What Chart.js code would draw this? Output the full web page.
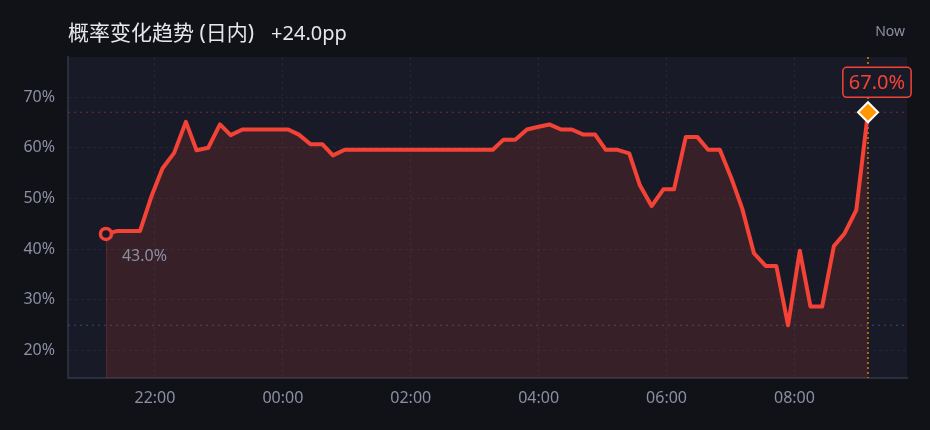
<!DOCTYPE html>
<html lang="zh">
<head>
    <meta charset="UTF-8">
    <title>概率变化趋势 (日内)</title>
    <style>
        html, body {
            margin: 0;
            padding: 0;
            background: #111217;
        }
        .wrap {
            position: relative;
            width: 930px;
            height: 430px;
            font-family: "Noto Sans", "Noto Sans CJK SC", sans-serif;
        }
        canvas {
            position: absolute;
            left: 0;
            top: 0;
        }
        .title {
            position: absolute;
            left: 68px;
            top: 18px;
            font-size: 21px;
            line-height: 28px;
            color: #e6e7eb;
            white-space: nowrap;
        }
        .title .delta {
            margin-left: 17px;
            font-size: 20px;
        }
        .now {
            position: absolute;
            right: 25px;
            top: 22px;
            font-size: 14px;
            line-height: 18px;
            color: #8b8fa3;
        }
    </style>
</head>
<body>
    <div class="wrap">
        <canvas id="chart" width="930" height="430"></canvas>
        <div class="title">概率变化趋势 (日内)<span class="delta">+24.0pp</span></div>
        <div class="now">Now</div>
    </div>

    <script src="https://cdn.jsdelivr.net/npm/chart.js"></script>
    <script>
        // sample times (previous evening -> this morning)
        const times = [
            '21:14', '21:25', '21:35', '21:46', '21:57', '22:07', '22:18', '22:29', '22:39', '22:50',
            '23:01', '23:11', '23:22', '23:33', '23:43', '23:54', '00:05', '00:15', '00:26', '00:37',
            '00:47', '00:58', '01:09', '01:19', '01:30', '01:41', '01:51', '02:02', '02:13', '02:23',
            '02:34', '02:45', '02:55', '03:06', '03:17', '03:27', '03:38', '03:49', '03:59', '04:10',
            '04:21', '04:31', '04:42', '04:53', '05:03', '05:14', '05:25', '05:35', '05:46', '05:57',
            '06:07', '06:18', '06:29', '06:39', '06:50', '07:01', '07:11', '07:22', '07:33', '07:43',
            '07:54', '08:05', '08:15', '08:26', '08:37', '08:47', '08:58', '09:09'
        ];
        // probability in %
        const probs = [
            43.0, 43.6, 43.6, 43.6, 50.6, 55.9, 59.0, 65.1, 59.5, 60.0,
            64.6, 62.5, 63.6, 63.6, 63.6, 63.6, 63.6, 62.6, 60.7, 60.7,
            58.5, 59.6, 59.6, 59.6, 59.6, 59.6, 59.6, 59.6, 59.6, 59.6,
            59.6, 59.6, 59.6, 59.6, 59.6, 61.6, 61.6, 63.6, 64.1, 64.6,
            63.6, 63.6, 62.6, 62.6, 59.6, 59.6, 58.9, 52.6, 48.5, 51.8,
            51.8, 62.1, 62.1, 59.6, 59.6, 53.9, 48.0, 39.2, 36.7, 36.7,
            25.0, 39.7, 28.7, 28.7, 40.6, 43.1, 47.7, 67.0
        ];
        const xTickLabels = ['22:00', '00:00', '02:00', '04:00', '06:00', '08:00'];
        const yTicks = [20, 30, 40, 50, 60, 70];

        const RED = '#f44336';
        const PLOT_BG = '#181b27';
        const TICK = '#8b8fa3';

        // "HH:MM" -> hours relative to midnight (evening becomes negative)
        function toHours(s) {
            const [h, m] = s.split(':').map(Number);
            let v = h + m / 60;
            if (v >= 12) v -= 24;
            return v;
        }
        function fmtHours(v) {
            const h = ((Math.round(v) % 24) + 24) % 24;
            return String(h).padStart(2, '0') + ':00';
        }

        const points = times.map((t, i) => ({ x: toHours(t), y: probs[i] }));
        const last = points.length - 1;
        const minVal = Math.min(...probs);

        const overlay = {
            id: 'overlay',
            beforeDraw(chart) {
                const { ctx, chartArea: a } = chart;
                ctx.save();
                ctx.fillStyle = PLOT_BG;
                ctx.fillRect(a.left, a.top, a.right - a.left, a.bottom - a.top);
                ctx.restore();
            },
            beforeDatasetsDraw(chart) {
                const { ctx, chartArea: a, scales } = chart;
                const yNow = scales.y.getPixelForValue(probs[last]);
                const yMin = scales.y.getPixelForValue(minVal);
                const xNow = scales.x.getPixelForValue(points[last].x);
                const xStart = scales.x.getPixelForValue(points[0].x);
                const yStart = scales.y.getPixelForValue(probs[0]);
                ctx.save();
                ctx.lineWidth = 1.2;
                ctx.setLineDash([2, 4]);
                // current value line
                ctx.strokeStyle = 'rgba(244, 67, 54, 0.45)';
                ctx.beginPath();
                ctx.moveTo(a.left, yNow);
                ctx.lineTo(a.right, yNow);
                ctx.stroke();
                // minimum line
                ctx.strokeStyle = 'rgba(80, 100, 170, 0.6)';
                ctx.beginPath();
                ctx.moveTo(a.left, yMin);
                ctx.lineTo(a.right, yMin);
                ctx.stroke();
                // now marker
                ctx.setLineDash([2, 3]);
                ctx.lineWidth = 1.5;
                ctx.strokeStyle = '#d9820f';
                ctx.beginPath();
                ctx.moveTo(xNow, a.top);
                ctx.lineTo(xNow, a.bottom);
                ctx.stroke();
                // start drop line
                ctx.setLineDash([]);
                ctx.lineWidth = 1;
                ctx.strokeStyle = 'rgba(244, 67, 54, 0.18)';
                ctx.beginPath();
                ctx.moveTo(xStart + 0.5, yStart);
                ctx.lineTo(xStart + 0.5, a.bottom);
                ctx.stroke();
                ctx.restore();
            },
            afterDatasetsDraw(chart) {
                const { ctx, scales } = chart;
                const xs = scales.x.getPixelForValue(points[0].x);
                const ys = scales.y.getPixelForValue(probs[0]);
                const xe = scales.x.getPixelForValue(points[last].x);
                const ye = scales.y.getPixelForValue(probs[last]);
                ctx.save();
                ctx.font = '16px "Noto Sans", sans-serif';
                ctx.fillStyle = TICK;
                ctx.textBaseline = 'middle';
                ctx.textAlign = 'left';
                ctx.fillText(probs[0].toFixed(1) + '%', xs + 16, ys + 22);

                // current value badge
                ctx.font = '20px "Noto Sans", sans-serif';
                const txt = probs[last].toFixed(1) + '%';
                const w = ctx.measureText(txt).width + 12;
                const h = 30;
                const cx = xe + 9;
                const bx = cx - w / 2, by = ye - 15 - h;
                ctx.fillStyle = PLOT_BG;
                ctx.strokeStyle = RED;
                ctx.lineWidth = 1.5;
                ctx.beginPath();
                ctx.roundRect(bx, by, w, h, 4);
                ctx.fill();
                ctx.stroke();
                ctx.fillStyle = RED;
                ctx.textAlign = 'center';
                ctx.fillText(txt, cx, by + h / 2 + 1);
                ctx.restore();
            }
        };

        Chart.defaults.font.family = '"Noto Sans", sans-serif';

        new Chart(document.getElementById('chart'), {
            type: 'line',
            data: {
                datasets: [{
                    data: points,
                    borderColor: RED,
                    borderWidth: 4,
                    backgroundColor: 'rgba(244, 67, 54, 0.15)',
                    fill: 'start',
                    tension: 0,
                    borderJoinStyle: 'round',
                    pointStyle: ctx => ctx.dataIndex === last ? 'rectRot' : 'circle',
                    pointRadius: ctx => ctx.dataIndex === 0 ? 5.5 : (ctx.dataIndex === last ? 10 : 0),
                    pointBackgroundColor: ctx => ctx.dataIndex === last ? '#ff9800' : PLOT_BG,
                    pointBorderColor: ctx => ctx.dataIndex === last ? '#ffffff' : RED,
                    pointBorderWidth: ctx => ctx.dataIndex === last ? 2 : 3.5,
                    pointHoverRadius: 0
                }]
            },
            options: {
                responsive: false,
                animation: false,
                events: [],
                layout: { padding: { top: 57, right: 23, left: 0, bottom: 0 } },
                plugins: {
                    legend: { display: false },
                    tooltip: { enabled: false }
                },
                scales: {
                    x: {
                        type: 'linear',
                        min: -3.36,
                        max: 9.76,
                        afterBuildTicks: s => { s.ticks = xTickLabels.map(l => ({ value: toHours(l) })); },
                        afterFit: s => { s.height = 52; },
                        ticks: {
                            color: TICK,
                            font: { size: 16 },
                            padding: 11,
                            maxRotation: 0,
                            callback: v => fmtHours(v)
                        },
                        grid: { color: 'rgba(255, 255, 255, 0.05)', drawTicks: false },
                        border: { display: true, color: '#2b2e3c', width: 2, dash: [3, 3] }
                    },
                    y: {
                        min: 14.6,
                        max: 77.9,
                        afterBuildTicks: s => { s.ticks = yTicks.map(v => ({ value: v })); },
                        afterFit: s => { s.width = 68; },
                        ticks: {
                            color: TICK,
                            font: { size: 16 },
                            padding: 13,
                            callback: v => v + '%'
                        },
                        grid: { color: 'rgba(255, 255, 255, 0.05)', drawTicks: false },
                        border: { display: true, color: '#2b2e3c', width: 2, dash: [3, 3] }
                    }
                }
            },
            plugins: [overlay]
        });
    </script>
</body>
</html>
